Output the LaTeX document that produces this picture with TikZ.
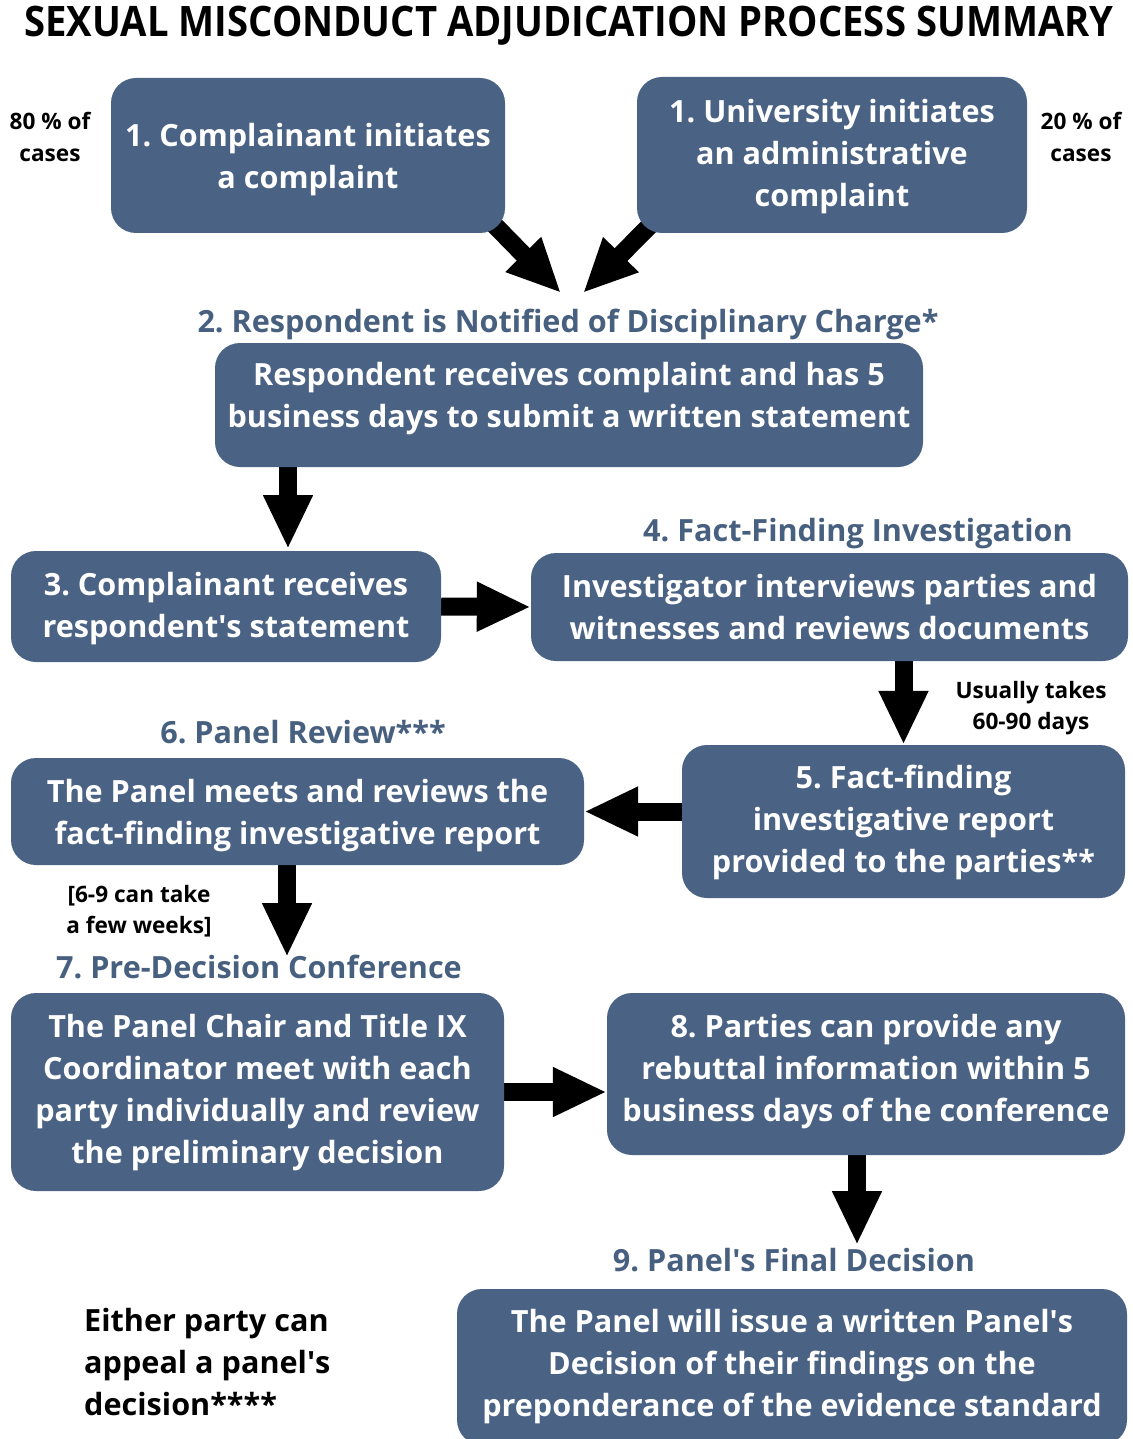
\documentclass[tikz,border=0pt]{standalone}
\usepackage{fontspec}
\setmainfont{Open Sans}
\usetikzlibrary{arrows.meta,calc}
\definecolor{slate}{HTML}{4A6284}
\definecolor{slatetext}{HTML}{48607F}
\pgfdeclarelayer{bg}\pgfsetlayers{bg,main}
\newcommand{\q}{\textquotesingle}
\begin{document}
\frenchspacing
\begin{tikzpicture}[x=1pt,y=-1pt,
 box/.style={fill=slate, rounded corners=25pt, inner sep=0pt},
 boxtext/.style={text=white, font=\fontsize{30.6}{42}\selectfont\bfseries, align=center, inner sep=0pt},
 steplabel/.style={text=slatetext, font=\fontsize{30.6}{42}\selectfont\bfseries, inner sep=0pt, text height=22pt, text depth=7pt},
 note/.style={font=\fontsize{22.6}{31.5}\selectfont\bfseries, align=center, inner sep=0pt},
 fat/.style={line width=18pt, -{Triangle[width=46pt,length=54pt]}}]
\clip (0,0) rectangle (1132,1439);
\begin{pgfonlayer}{bg}
\fill[white] (0,0) rectangle (1132,1439);
\end{pgfonlayer}
% title
\node[inner sep=0pt, font=\fontsize{42}{46}\selectfont\bfseries] (title) at (569,26) {\scalebox{0.91}[1]{SEXUAL MISCONDUCT ADJUDICATION PROCESS SUMMARY}};
% top boxes
\node[box, minimum width=394pt, minimum height=155pt] (A) at (308,155.5) {};
\node[boxtext] (At) at ($(A)+(0,4)$) {1. Complainant initiates\\a complaint};
\node[box, minimum width=390pt, minimum height=156pt] (B) at (832,155) {};
\node[boxtext] (Bt) at ($(B)+(0,2)$) {1. University initiates\\an administrative\\complaint};
\node[note] (n80) at (50,137) {80 \% of\\cases};
\node[note] (n20) at (1081,137) {20 \% of\\cases};
\coordinate (t1) at (561,293);
\coordinate (t2) at (583,293);
% step 2
\node[steplabel] (L2) at (568,325) {2. Respondent is Notified of Disciplinary Charge*};
\node[box, minimum width=708pt, minimum height=124pt] (C) at (569,405) {};
\node[boxtext] (Ct) at ($(C)+(0,-6)$) {Respondent receives complaint and has 5\\business days to submit a written statement};
% step 3
\node[box, minimum width=430pt, minimum height=111pt] (D) at (226,606.5) {};
\node[boxtext] (Dt) at ($(D)+(0,2)$) {3. Complainant receives\\respondent\q s statement};
\coordinate (cd) at (288,549);
% step 4
\node[steplabel] (L4) at (858,534) {4. Fact-Finding Investigation};
\node[box, minimum width=597pt, minimum height=108pt] (E) at (829.5,607) {};
\node[boxtext] (Et) at (E) {Investigator interviews parties and\\witnesses and reviews documents};
\node[note] (n6090) at (1031,708) {Usually takes\\60-90 days};
% step 5
\node[box, minimum width=443pt, minimum height=153pt] (F) at (903.5,821.5) {};
\node[boxtext] (Ft) at ($(F)+(0,1)$) {5. Fact-finding\\investigative report\\provided to the parties**};
% step 6
\node[steplabel] (L6) at (303,736) {6. Panel Review***};
\node[box, minimum width=573pt, minimum height=107pt] (G) at (297.5,811.5) {};
\node[boxtext] (Gt) at ($(G)+(0,4)$) {The Panel meets and reviews the\\fact-finding investigative report};
\node[note] (nweeks) at (139,911) {[6-9 can take\\a few weeks]};
\coordinate (gh) at (287,957);
% step 7
\node[steplabel] (L7) at (259,971) {7. Pre-Decision Conference};
\node[box, minimum width=493pt, minimum height=198pt] (H) at (257.5,1092) {};
\node[boxtext] (Ht) at ($(H)+(0,1)$) {The Panel Chair and Title IX\\Coordinator meet with each\\party individually and review\\the preliminary decision};
% step 8
\node[box, minimum width=518pt, minimum height=162pt] (I) at (866,1074) {};
\node[boxtext] (It) at ($(I)+(0,-2)$) {8. Parties can provide any\\rebuttal information within 5\\business days of the conference};
\coordinate (ij) at (857,1245);
% step 9
\node[steplabel] (L9) at (794,1264) {9. Panel\q s Final Decision};
\node[box, minimum width=670pt, minimum height=156pt] (J) at (792,1367) {};
\node[boxtext] (Jt) at (J) {The Panel will issue a written Panel\q s\\Decision of their findings on the\\preponderance of the evidence standard};
\node[anchor=west, inner sep=0pt, align=left, font=\fontsize{30.6}{42}\selectfont\bfseries] (appeal) at (84,1362) {Either party can\\appeal a panel\q s\\decision****};
% arrows
\begin{pgfonlayer}{bg}
\draw[fat] ($(A.south east)+(-35,-33)$) -- (t1);
\draw[fat] ($(B.south west)+(38,-33)$) -- (t2);
\draw[fat] (C.south -| cd) -- (cd);
\draw[fat] (D.east) -- (E.west);
\draw[fat] (E.south -| F.north) -- (F.north);
\draw[fat] (F.west |- G.east) -- (G.east);
\draw[fat] (G.south -| gh) -- (gh);
\draw[fat] (H.east) -- (I.west |- H.east);
\draw[fat] (I.south -| ij) -- (ij);
\end{pgfonlayer}
\end{tikzpicture}
\end{document}
